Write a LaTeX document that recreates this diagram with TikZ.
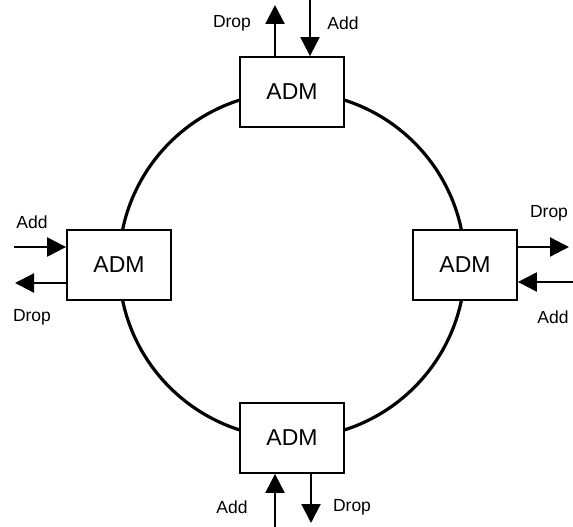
\documentclass[tikz,border=0pt]{standalone}
\usepackage{fontspec}
\setmainfont{Liberation Sans}
\usetikzlibrary{arrows.meta}
\begin{document}
\begin{tikzpicture}[x=1pt,y=-1pt,
  adm/.style={draw, line width=1.8pt, fill=white, minimum width=104pt, minimum height=70pt, inner sep=0pt, font=\fontsize{23}{26}\selectfont},
  ring/.style={line width=3.2pt},
  arr/.style={line width=2.2pt, -{Triangle[length=19pt,width=19pt]}},
  lbl/.style={font=\fontsize{17.5}{20}\selectfont, inner sep=0pt}]
\useasboundingbox (0,0) rectangle (573,527);
\coordinate (c) at (292,265);
\draw[ring] (c) circle[radius=173];
\node[adm] (top) at (292,92) {ADM};
\node[adm] (left) at (119,265) {ADM};
\node[adm] (right) at (465,265) {ADM};
\node[adm] (bot) at (292,438) {ADM};
% free ends
\coordinate (tD) at (275,5);
\coordinate (tA) at (310,0);
\coordinate (lA) at (14,247);
\coordinate (lD) at (15,283);
\coordinate (rD) at (569,247);
\coordinate (rA) at (573,282);
\coordinate (bA) at (275,527);
\coordinate (bD) at (311,523);
% arrows
\draw[arr] (top.north -| tD) -- (tD);
\draw[arr] (tA) -- (top.north -| tA);
\draw[arr] (lA) -- (left.west |- lA);
\draw[arr] (left.west |- lD) -- (lD);
\draw[arr] (right.east |- rD) -- (rD);
\draw[arr] (rA) -- (right.east |- rA);
\draw[arr] (bA) -- (bot.south -| bA);
\draw[arr] (bot.south -| bD) -- (bD);
% labels
\node[lbl] (l1) at (232,23) {Drop};
\node[lbl] (l2) at (343,23) {Add};
\node[lbl] (l3) at (32,222) {Add};
\node[lbl] (l4) at (32,317) {Drop};
\node[lbl] (l5) at (549,213) {Drop};
\node[lbl] (l6) at (553,317) {Add};
\node[lbl] (l7) at (232,507) {Add};
\node[lbl] (l8) at (352,507) {Drop};
\end{tikzpicture}
\end{document}
